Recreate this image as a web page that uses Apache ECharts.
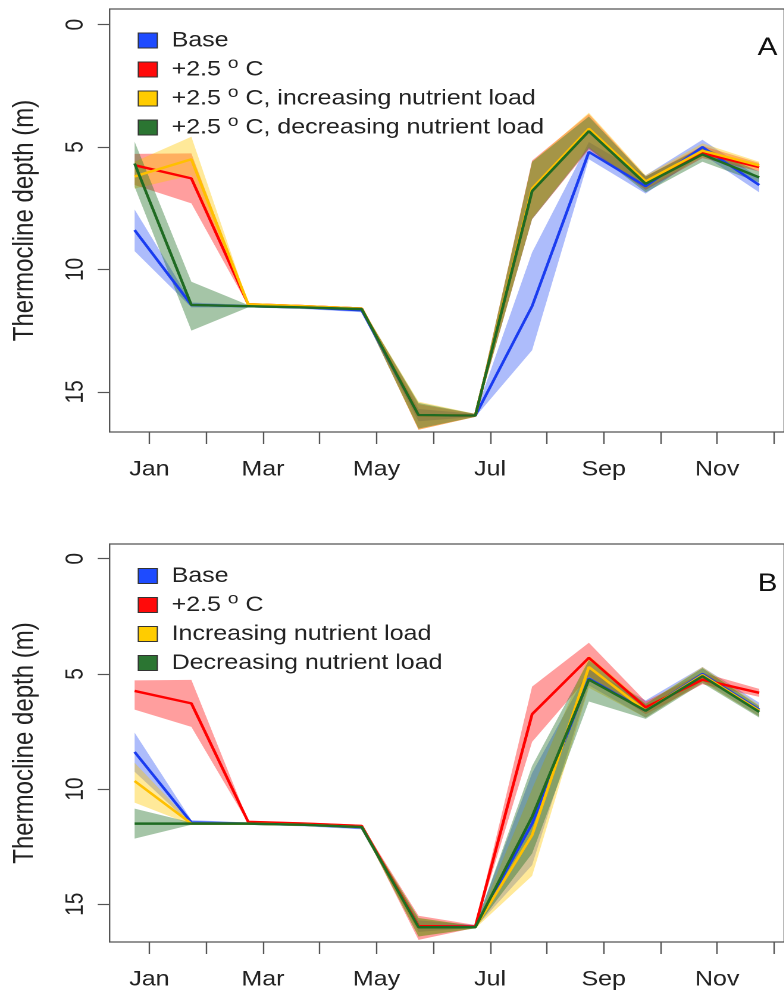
<!DOCTYPE html>
<html>
<head>
<meta charset="utf-8">
<script src="https://cdn.jsdelivr.net/npm/echarts@6/dist/echarts.min.js"></script>
<style>
  html, body { margin: 0; padding: 0; background: #fff; overflow: hidden; width: 784px; height: 997px; }
  /* the figure is laid out on a narrower canvas and widened to the page */
  #chart { width: 659px; height: 997px; transform: scaleX(1.19); transform-origin: 0 0; }
</style>
</head>
<body>
<div id="chart"></div>
<script>
// Month axis
const monthNames = ['Jan', 'Feb', 'Mar', 'Apr', 'May', 'Jun', 'Jul', 'Aug', 'Sep', 'Oct', 'Nov', 'Dec'];
const monthTicks = [1, 2, 3, 4, 5, 6, 7, 8, 9, 10, 11, 12];
const monthLabelTicks = [1, 3, 5, 7, 9, 11];
const depthTicks = [0, 5, 10, 15];

// Sampling dates (fractional month position)
const sampleMonth = [0.74, 1.74, 2.74, 3.74, 4.74, 5.74, 6.74, 7.74, 8.74, 9.74, 10.74, 11.74];

// Base scenario: median and range of thermocline depth (m)
const baseMean = [8.39, 11.45, 11.5, 11.55, 11.67, 15.95, 15.97, 11.5, 5.2, 6.6, 5.0, 6.55];
const baseLo   = [7.55, 11.35, 11.45, 11.5, 11.6, 15.7, 15.9, 9.3, 4.8, 6.15, 4.7, 6.25];
const baseHi   = [9.25, 11.55, 11.55, 11.62, 11.75, 16.2, 16.02, 13.3, 5.5, 6.9, 5.3, 6.85];

// +2.5 °C
const warmMean = [5.74, 6.28, 11.42, 11.5, 11.6, 15.95, 15.97, 6.75, 4.3, 6.45, 5.25, 5.82];
const warmLo   = [5.28, 5.26, 11.38, 11.45, 11.55, 15.5, 15.9, 5.55, 3.65, 6.2, 4.95, 5.65];
const warmHi   = [6.55, 7.3, 11.48, 11.55, 11.65, 16.55, 16.02, 7.95, 5.1, 6.75, 5.45, 6.0];

// +2.5 °C with increasing nutrient load
const warmIncMean = [6.2, 5.5, 11.42, 11.5, 11.6, 15.95, 15.97, 6.7, 4.25, 6.4, 5.15, 5.75];
const warmIncLo   = [5.6, 4.58, 11.38, 11.45, 11.55, 15.4, 15.9, 5.6, 3.6, 6.15, 4.85, 5.6];
const warmIncHi   = [6.7, 6.15, 11.48, 11.55, 11.65, 16.55, 16.02, 7.9, 5.0, 6.7, 5.4, 5.95];

// +2.5 °C with decreasing nutrient load
const warmDecMean = [5.67, 11.45, 11.5, 11.55, 11.62, 15.95, 15.97, 6.8, 4.35, 6.5, 5.3, 6.24];
const warmDecLo   = [4.78, 10.5, 11.45, 11.5, 11.55, 15.45, 15.9, 5.6, 3.75, 6.2, 5.0, 6.0];
const warmDecHi   = [6.62, 12.5, 11.55, 11.6, 11.7, 16.5, 16.02, 7.95, 5.05, 6.85, 5.6, 6.45];

// Increasing nutrient load (no warming)
const incMean = [9.65, 11.5, 11.5, 11.55, 11.65, 16.0, 16.0, 12.0, 4.7, 6.6, 5.05, 6.6];
const incLo   = [8.86, 11.45, 11.45, 11.5, 11.6, 15.6, 15.95, 10.0, 4.2, 6.3, 4.7, 6.35];
const incHi   = [10.59, 11.55, 11.55, 11.6, 11.7, 16.4, 16.05, 13.77, 5.6, 6.9, 5.35, 6.85];

// Decreasing nutrient load (no warming)
const decMean = [11.5, 11.5, 11.5, 11.55, 11.65, 16.0, 16.0, 11.2, 5.25, 6.6, 5.1, 6.65];
const decLo   = [10.85, 11.45, 11.45, 11.5, 11.6, 15.6, 15.95, 9.0, 4.4, 6.3, 4.75, 6.4];
const decHi   = [12.15, 11.55, 11.55, 11.6, 11.7, 16.4, 16.05, 12.8, 6.2, 6.95, 5.4, 6.9];

const FONT = "'Liberation Sans', Arial, Helvetica, sans-serif";
const AXIS_COLOR = '#555';
const TEXT_COLOR = '#222';

const palette = {
  blue:   { line: '#1a3cf0', band: 'rgba(40,80,245,0.38)',  key: '#1e4bff' },
  red:    { line: '#ff0000', band: 'rgba(255,0,0,0.38)',    key: '#ff0a0a' },
  yellow: { line: '#ffc000', band: 'rgba(255,200,0,0.40)',  key: '#ffcc00' },
  green:  { line: '#1f6b22', band: 'rgba(30,110,35,0.40)',  key: '#2b7532' }
};

function bandSeries(name, idx, lo, hi, fill) {
  return {
    type: 'custom',
    name: name,
    xAxisIndex: idx,
    yAxisIndex: idx,
    silent: true,
    clip: true,
    animation: false,
    data: sampleMonth.map((m, i) => [m, lo[i], hi[i]]),
    encode: { x: 0, y: [1, 2] },
    renderItem: function (params, api) {
      if (params.dataIndex !== 0) return null;
      const pts = [];
      for (let i = 0; i < sampleMonth.length; i++) pts.push(api.coord([sampleMonth[i], hi[i]]));
      for (let i = sampleMonth.length - 1; i >= 0; i--) pts.push(api.coord([sampleMonth[i], lo[i]]));
      return { type: 'polygon', shape: { points: pts }, style: { fill: fill } };
    }
  };
}

function lineSeries(name, idx, mean, color) {
  return {
    type: 'line',
    name: name,
    xAxisIndex: idx,
    yAxisIndex: idx,
    data: sampleMonth.map((m, i) => [m, mean[i]]),
    showSymbol: false,
    symbol: 'none',
    silent: true,
    animation: false,
    lineStyle: { color: color, width: 2.4 },
    itemStyle: { color: color }
  };
}

function scenario(name, idx, mean, lo, hi, col) {
  return [bandSeries(name, idx, lo, hi, col.band), lineSeries(name, idx, mean, col.line)];
}

const panels = [
  { top: 9, height: 423, legendTop: 21.5, tag: 'A', tagY: 48,
    items: [
      ['Base', baseMean, baseLo, baseHi, palette.blue],
      ['+2.5 °C', warmMean, warmLo, warmHi, palette.red],
      ['+2.5 °C, increasing nutrient load', warmIncMean, warmIncLo, warmIncHi, palette.yellow],
      ['+2.5 °C, decreasing nutrient load', warmDecMean, warmDecLo, warmDecHi, palette.green]
    ] },
  { top: 544, height: 398, legendTop: 557, tag: 'B', tagY: 584,
    items: [
      ['Base', baseMean, baseLo, baseHi, palette.blue],
      ['+2.5 °C', warmMean, warmLo, warmHi, palette.red],
      ['Increasing nutrient load', incMean, incLo, incHi, palette.yellow],
      ['Decreasing nutrient load', decMean, decLo, decHi, palette.green]
    ] }
];

const grids = [], xAxes = [], yAxes = [], legends = [], series = [], graphics = [];

panels.forEach((p, idx) => {
  grids.push({
    left: 92.1, width: 575.5, top: p.top, height: p.height,
    show: true, borderColor: AXIS_COLOR, borderWidth: 1.2, backgroundColor: 'transparent'
  });
  xAxes.push({
    type: 'value', gridIndex: idx, min: 0.3, max: 12.18, position: 'bottom',
    axisLine: { show: false, onZero: false },
    splitLine: { show: false },
    axisTick: { show: true, inside: false, length: 12, customValues: monthTicks,
                lineStyle: { color: AXIS_COLOR, width: 1.2 } },
    axisLabel: { customValues: monthLabelTicks, formatter: v => monthNames[Math.round(v) - 1],
                 margin: 27, fontSize: 21, color: TEXT_COLOR, fontFamily: FONT }
  });
  yAxes.push({
    type: 'value', gridIndex: idx, inverse: true, min: -0.64, max: 16.64, position: 'left',
    name: 'Thermocline depth (m)', nameLocation: 'middle', nameGap: 59,
    nameTextStyle: { fontSize: 24, color: TEXT_COLOR, fontFamily: FONT },
    axisLine: { show: false, onZero: false },
    splitLine: { show: false },
    axisTick: { show: true, inside: false, length: 10, customValues: depthTicks,
                lineStyle: { color: AXIS_COLOR, width: 1.2 } },
    axisLabel: { customValues: depthTicks, rotate: 90, margin: 18,
                 fontSize: 21, color: TEXT_COLOR, fontFamily: FONT }
  });
  legends.push({
    orient: 'vertical', left: 110.7, top: p.legendTop,
    itemWidth: 16, itemHeight: 15, itemGap: 1, icon: 'rect',
    selectedMode: false,
    data: p.items.map(it => ({
      name: it[0],
      itemStyle: { color: it[4].key, borderColor: '#333', borderWidth: 1 }
    })),
    // raised small "o" for the degree mark
    formatter: n => n.replace('°C', '{sup|o} C'),
    textStyle: {
      fontSize: 21, lineHeight: 28, color: TEXT_COLOR, fontFamily: FONT, padding: [0, 0, 0, 7],
      rich: { sup: { fontSize: 16, lineHeight: 4, padding: [0, 0, 12, 0], color: TEXT_COLOR, fontFamily: FONT } }
    }
  });
  p.items.forEach(it => { series.push(...scenario(it[0], idx, it[1], it[2], it[3], it[4])); });
  graphics.push({
    type: 'text', x: 645, y: p.tagY,
    style: { text: p.tag, fontSize: 25, fontFamily: FONT, fill: '#111', align: 'center', verticalAlign: 'middle' }
  });
});

const chart = echarts.init(document.getElementById('chart'), null, { renderer: 'canvas', devicePixelRatio: 2 });
chart.setOption({
  backgroundColor: '#fff',
  animation: false,
  grid: grids,
  xAxis: xAxes,
  yAxis: yAxes,
  legend: legends,
  series: series,
  graphic: graphics
});
</script>
</body>
</html>
